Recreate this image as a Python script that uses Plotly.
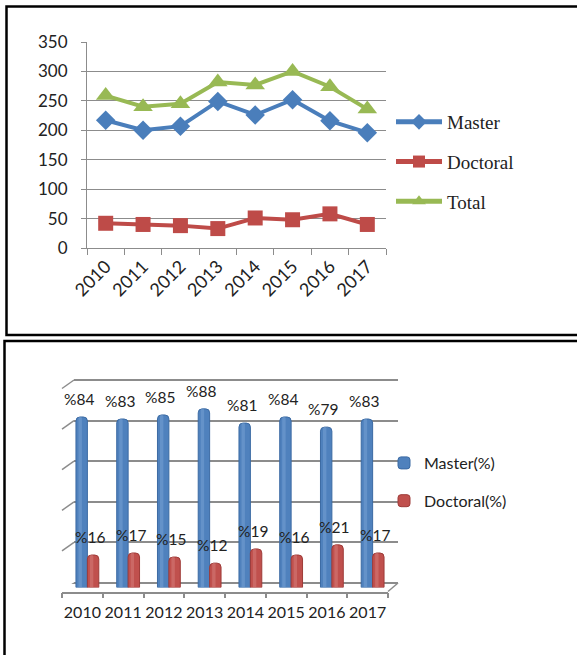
import plotly.graph_objects as go

W, H = 577, 655

# ---- data ----
years = ["2010", "2011", "2012", "2013", "2014", "2015", "2016", "2017"]
master = [217, 200, 207, 249, 226, 252, 216, 196]
doctoral = [42, 40, 38, 33, 51, 48, 58, 40]
total = [259, 240, 245, 282, 277, 300, 274, 236]
master_pct = [84, 83, 85, 88, 81, 84, 79, 83]
doctoral_pct = [16, 17, 15, 12, 19, 16, 21, 17]
count_ticks = [0, 50, 100, 150, 200, 250, 300, 350]
pct_grid = [0, 20, 40, 60, 80, 100]


def fx(x):
    return x / W


def fy(y):
    return 1 - y / H


TICK_FONT = dict(family="Lato", size=17, color="#222222")
XTICK_FONT = dict(family="Lato", size=18, color="#222222")
GRID = "#8c8c8c"

fig = go.Figure()

# ---- top: counts per year ----
line_styles = [
    ("Master", master, "#4A7EBB", "diamond", 15),
    ("Doctoral", doctoral, "#BE4B48", "square", 15),
    ("Total", total, "#98B954", "triangle-up", 17),
]
for name, vals, col, sym, size in line_styles:
    fig.add_trace(go.Scatter(
        x=years, y=vals, name=name, mode="lines+markers",
        line=dict(color=col, width=4),
        marker=dict(symbol=sym, size=size, color=col),
        legendgroup=name, legend="legend", xaxis="x", yaxis="y",
    ))

# ---- bottom: shares per year (drawn in a mid-depth plane) ----
BAR_W = 0.28
bar_styles = [
    ("Master(%)", master_pct, "#4F81BD", "#3B6AA3", "#7FA6D6", -BAR_W),
    ("Doctoral(%)", doctoral_pct, "#C0504D", "#9E3B38", "#D98482", 0.0),
]
for name, vals, col, edge, light, off in bar_styles:
    fig.add_trace(go.Bar(
        x=years, y=vals, name=name, width=BAR_W, offset=off,
        marker=dict(color=col, line=dict(color=edge, width=1), cornerradius=4),
        xaxis="x3", yaxis="y3", legend="legend2", legendgroup=name,
    ))
for name, vals, col, edge, light, off in bar_styles:
    # soft highlight strip giving the bars a rounded look
    fig.add_trace(go.Bar(
        x=years, y=vals, width=BAR_W * 0.3, offset=off + BAR_W * 0.22,
        marker=dict(color=light, opacity=0.45, line=dict(width=0), cornerradius=2),
        xaxis="x3", yaxis="y3", showlegend=False, hoverinfo="skip",
    ))
# category carrier for the front floor edge (no visible marks)
fig.add_trace(go.Scatter(
    x=years, y=[0.5] * len(years), mode="markers", marker=dict(opacity=0),
    showlegend=False, hoverinfo="skip", xaxis="x4", yaxis="y4",
))

LABEL_FONT = dict(family="Lato", size=15.5, color="#222222")
annotations = []
for i, v in enumerate(master_pct):
    annotations.append(dict(x=i, y=v, xref="x3", yref="y3", text=f"%{v}",
                            showarrow=False, xshift=-8.5, yshift=18,
                            font=LABEL_FONT))
for i, v in enumerate(doctoral_pct):
    annotations.append(dict(x=i, y=v, xref="x3", yref="y3", text=f"%{v}",
                            showarrow=False, xshift=2.5, yshift=18,
                            font=LABEL_FONT))

# depth of the bottom chart's floor/walls in pixels
DX, DY = 12, 8.5
px_per_unit = (583 - 380) / 100.0
shapes = []
# left slanted ends of the back-wall grid lines
for v in pct_grid:
    shapes.append(dict(type="line", xref="paper", yref="y2",
                       x0=fx(74 - DX), x1=fx(74), y0=v - DY / px_per_unit, y1=v,
                       line=dict(color=GRID, width=1.5)))
# right slanted end of the floor
shapes.append(dict(type="line", xref="paper", yref="paper",
                   x0=fx(388), y0=fy(591.5), x1=fx(398), y1=fy(583),
                   line=dict(color=GRID, width=1.5)))
# panel frames
shapes.append(dict(type="rect", xref="paper", yref="paper",
                   x0=fx(6.5), y0=fy(335), x1=fx(590), y1=fy(6.5),
                   line=dict(color="black", width=2.5)))
shapes.append(dict(type="rect", xref="paper", yref="paper",
                   x0=fx(4.5), y0=fy(670), x1=fx(590), y1=fy(341),
                   line=dict(color="black", width=2.5)))

PAD = 0.5  # keeps the end grid lines of the back wall inside the range
wall_top, wall_bot = 380, 583
pad_px = PAD * px_per_unit

fig.update_layout(
    template="none",
    width=W, height=H,
    margin=dict(l=0, r=0, t=0, b=0, pad=0),
    paper_bgcolor="white", plot_bgcolor="rgba(0,0,0,0)",
    showlegend=True,
    barmode="overlay",
    annotations=annotations,
    shapes=shapes,
    # top chart axes
    xaxis=dict(domain=[fx(87), fx(386)], anchor="y", type="category",
               range=[-0.5, 7.5], tickson="boundaries", ticks="outside",
               ticklen=6, tickcolor=GRID, showline=True, linecolor=GRID,
               linewidth=1, showgrid=False, zeroline=False, tickangle=-45,
               tickfont=XTICK_FONT, automargin=False),
    yaxis=dict(domain=[fy(248), fy(42)], anchor="x", range=[0, 350],
               tickvals=count_ticks, ticks="outside", ticklen=5,
               tickcolor=GRID, showline=True, linecolor=GRID, linewidth=1,
               showgrid=True, gridcolor=GRID, gridwidth=1, zeroline=False,
               tickfont=TICK_FONT, ticklabelstandoff=10, automargin=False),
    # back wall of the bottom chart
    xaxis2=dict(domain=[fx(74), fx(398)], anchor="y2", range=[0, 1],
                visible=False, automargin=False),
    yaxis2=dict(domain=[fy(wall_bot + pad_px), fy(wall_top - pad_px)],
                anchor="x2", range=[-PAD, 100 + PAD],
                tickvals=pct_grid, showgrid=True, gridcolor=GRID, gridwidth=1.5,
                zeroline=False, showticklabels=False, ticks="", showline=False,
                automargin=False),
    # bars
    xaxis3=dict(domain=[fx(67), fx(393)], anchor="y3", type="category",
                range=[-0.5, 7.5], visible=False, automargin=False),
    yaxis3=dict(domain=[fy(587.5), fy(384.5)], anchor="x3", range=[0, 100],
                visible=False, automargin=False),
    # front edge of the floor with year labels
    xaxis4=dict(domain=[fx(62), fx(388)], anchor="y4", type="category",
                range=[-0.5, 7.5], tickson="boundaries", ticks="outside",
                ticklen=5, tickcolor=GRID, tickwidth=1.5, tickangle=0,
                showline=True, linecolor=GRID, linewidth=1.5, showgrid=False,
                zeroline=False, tickfont=dict(family="Lato", size=16, color="#222222"),
                ticklabelstandoff=6, automargin=False),
    yaxis4=dict(domain=[fy(591.5), fy(585)], anchor="x4", range=[0, 1],
                visible=False, automargin=False),
    legend=dict(x=fx(391), y=fy(103), xanchor="left", yanchor="top",
                bgcolor="rgba(0,0,0,0)", itemwidth=46, itemsizing="constant",
                tracegroupgap=12,
                font=dict(family="Liberation Serif", size=19, color="#222222")),
    legend2=dict(x=fx(384), y=fy(446), xanchor="left", yanchor="top",
                 bgcolor="rgba(0,0,0,0)", tracegroupgap=14,
                 font=dict(family="Lato", size=16, color="#222222")),
)

fig.write_html("out.html")
